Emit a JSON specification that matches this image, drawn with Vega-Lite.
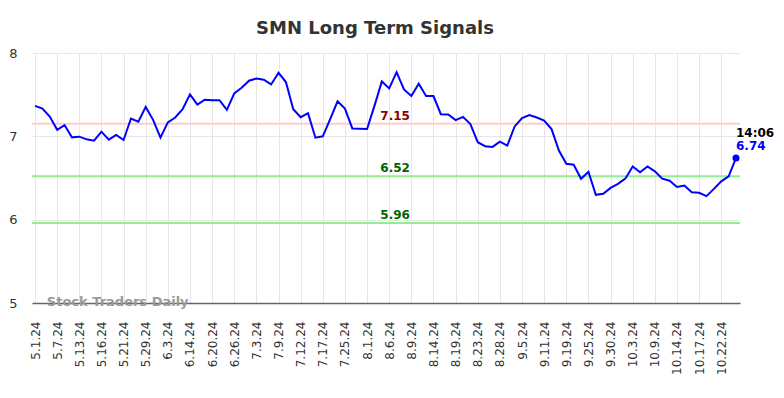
{
  "$schema": "https://vega.github.io/schema/vega-lite/v6.json",
  "width": 708,
  "height": 250,
  "autosize": {"type": "none"},
  "padding": {"left": 32, "top": 53, "right": 44, "bottom": 95},
  "background": "white",
  "title": {"text": "SMN Long Term Signals", "font": "DejaVu Sans", "fontSize": 18, "fontWeight": "bold", "color": "#333333", "anchor": "middle", "dx": -11, "offset": 9},
  "config": {"view": {"stroke": null}, "font": "DejaVu Sans"},
  "datasets": {
    "prices": [
      {"i":0,"v":7.365},{"i":1,"v":7.333},{"i":2,"v":7.238},{"i":3,"v":7.079},{"i":4,"v":7.135},{"i":5,"v":6.988},{"i":6,"v":6.996},{"i":7,"v":6.964},{"i":8,"v":6.948},{"i":9,"v":7.056},
      {"i":10,"v":6.96},{"i":11,"v":7.016},{"i":12,"v":6.956},{"i":13,"v":7.214},{"i":14,"v":7.175},{"i":15,"v":7.353},{"i":16,"v":7.198},{"i":17,"v":6.984},{"i":18,"v":7.167},{"i":19,"v":7.226},
      {"i":20,"v":7.325},{"i":21,"v":7.504},{"i":22,"v":7.381},{"i":23,"v":7.44},{"i":24,"v":7.433},{"i":25,"v":7.433},{"i":26,"v":7.317},{"i":27,"v":7.516},{"i":28,"v":7.583},{"i":29,"v":7.667},
      {"i":30,"v":7.694},{"i":31,"v":7.679},{"i":32,"v":7.623},{"i":33,"v":7.762},{"i":34,"v":7.651},{"i":35,"v":7.325},{"i":36,"v":7.23},{"i":37,"v":7.278},{"i":38,"v":6.984},{"i":39,"v":7.0},
      {"i":40,"v":7.206},{"i":41,"v":7.421},{"i":42,"v":7.333},{"i":43,"v":7.095},{"i":44,"v":7.091},{"i":45,"v":7.087},{"i":46,"v":7.365},{"i":47,"v":7.659},{"i":48,"v":7.575},{"i":49,"v":7.77},
      {"i":50,"v":7.563},{"i":51,"v":7.484},{"i":52,"v":7.631},{"i":53,"v":7.484},{"i":54,"v":7.484},{"i":55,"v":7.266},{"i":56,"v":7.262},{"i":57,"v":7.194},{"i":58,"v":7.234},{"i":59,"v":7.147},
      {"i":60,"v":6.929},{"i":61,"v":6.881},{"i":62,"v":6.873},{"i":63,"v":6.937},{"i":64,"v":6.889},{"i":65,"v":7.119},{"i":66,"v":7.218},{"i":67,"v":7.254},{"i":68,"v":7.226},{"i":69,"v":7.19},
      {"i":70,"v":7.087},{"i":71,"v":6.829},{"i":72,"v":6.67},{"i":73,"v":6.66},{"i":74,"v":6.49},{"i":75,"v":6.575},{"i":76,"v":6.298},{"i":77,"v":6.31},{"i":78,"v":6.381},{"i":79,"v":6.429},
      {"i":80,"v":6.492},{"i":81,"v":6.639},{"i":82,"v":6.568},{"i":83,"v":6.639},{"i":84,"v":6.58},{"i":85,"v":6.492},{"i":86,"v":6.468},{"i":87,"v":6.393},{"i":88,"v":6.409},{"i":89,"v":6.33},
      {"i":90,"v":6.322},{"i":91,"v":6.282},{"i":92,"v":6.369},{"i":93,"v":6.46},{"i":94,"v":6.52},{"i":95,"v":6.74}
    ],
    "levels": [
      {"level": 7.15, "label": "7.15", "kind": "resistance"},
      {"level": 6.52, "label": "6.52", "kind": "support"},
      {"level": 5.96, "label": "5.96", "kind": "support"}
    ],
    "last": [{"i": 95, "v": 6.74, "time": "14:06", "label": "6.74"}],
    "mark": [{"i": 1.6, "v": 5, "text": "Stock Traders Daily"}]
  },
  "layer": [
    {
      "data": {"name": "prices"},
      "mark": {"type": "line", "opacity": 0},
      "encoding": {
        "x": {"field": "i", "type": "quantitative", "scale": {"domain": [-0.41, 95.54], "nice": false, "zero": false},
          "axis": {"title": null, "tickCount": 100, "values": [0,3,6,9,12,15,18,21,24,27,30,33,36,39,42,45,48,51,54,57,60,63,66,69,72,75,78,81,84,87,90,93],
            "labelExpr": "['5.1.24','5.7.24','5.13.24','5.16.24','5.21.24','5.29.24','6.3.24','6.14.24','6.20.24','6.26.24','7.3.24','7.9.24','7.12.24','7.17.24','7.25.24','8.1.24','8.6.24','8.9.24','8.14.24','8.19.24','8.23.24','8.28.24','9.5.24','9.11.24','9.19.24','9.25.24','9.30.24','10.3.24','10.9.24','10.14.24','10.17.24','10.22.24'][round(datum.value/3)]",
            "labelAngle": -90, "labelAlign": "right", "labelBaseline": "middle", "labelPadding": 18, "labelFontSize": 12, "labelColor": "#333333", "labelFont": "DejaVu Sans",
            "ticks": false, "grid": true, "gridColor": "#e6e6e6", "gridWidth": 1, "domain": true, "domainColor": "#666666", "domainWidth": 1.5, "labelOverlap": false}},
        "y": {"field": "v", "type": "quantitative", "scale": {"domain": [5, 8], "nice": false, "zero": false},
          "axis": {"title": null, "values": [5,6,7,8], "format": "d", "ticks": false, "domain": false, "grid": true, "gridColor": "#e6e6e6", "labelPadding": 15, "labelFontSize": 13, "labelColor": "#333333", "labelFont": "DejaVu Sans"}}
      }
    },
    {
      "data": {"name": "levels"},
      "mark": {"type": "rule", "strokeWidth": 2},
      "encoding": {
        "y": {"field": "level", "type": "quantitative"},
        "color": {"field": "kind", "type": "nominal", "scale": {"domain": ["resistance", "support"], "range": ["#ffcccc", "#90ee90"]}, "legend": null}
      }
    },
    {
      "data": {"name": "prices"},
      "mark": {"type": "line", "color": "#0000ff", "strokeWidth": 2},
      "encoding": {
        "x": {"field": "i", "type": "quantitative"},
        "y": {"field": "v", "type": "quantitative"}
      }
    },
    {
      "data": {"name": "levels"},
      "mark": {"type": "text", "fontWeight": "bold", "fontSize": 12, "align": "center", "baseline": "middle", "dy": -8, "font": "DejaVu Sans"},
      "encoding": {
        "x": {"datum": 48.8, "type": "quantitative"},
        "y": {"field": "level", "type": "quantitative"},
        "text": {"field": "label"},
        "color": {"field": "kind", "type": "nominal", "scale": {"domain": ["resistance", "support"], "range": ["#8b0000", "#006400"]}, "legend": null}
      }
    },
    {
      "data": {"name": "last"},
      "mark": {"type": "point", "filled": true, "size": 50, "color": "#0000ff", "opacity": 1},
      "encoding": {
        "x": {"field": "i", "type": "quantitative"},
        "y": {"field": "v", "type": "quantitative"}
      }
    },
    {
      "data": {"name": "last"},
      "mark": {"type": "text", "fontWeight": "bold", "fontSize": 12, "align": "left", "baseline": "middle", "dy": -25, "color": "#000000", "font": "DejaVu Sans"},
      "encoding": {
        "x": {"field": "i", "type": "quantitative"},
        "y": {"field": "v", "type": "quantitative"},
        "text": {"field": "time"}
      }
    },
    {
      "data": {"name": "last"},
      "mark": {"type": "text", "fontWeight": "bold", "fontSize": 12, "align": "left", "baseline": "middle", "dy": -12, "color": "#0000ff", "font": "DejaVu Sans"},
      "encoding": {
        "x": {"field": "i", "type": "quantitative"},
        "y": {"field": "v", "type": "quantitative"},
        "text": {"field": "label"}
      }
    },
    {
      "data": {"name": "mark"},
      "mark": {"type": "text", "fontWeight": "bold", "fontSize": 13, "align": "left", "baseline": "middle", "dy": -1, "color": "#999999", "font": "DejaVu Sans"},
      "encoding": {
        "x": {"field": "i", "type": "quantitative"},
        "y": {"field": "v", "type": "quantitative"},
        "text": {"field": "text"}
      }
    }
  ],
  "resolve": {"scale": {"color": "independent"}}
}
